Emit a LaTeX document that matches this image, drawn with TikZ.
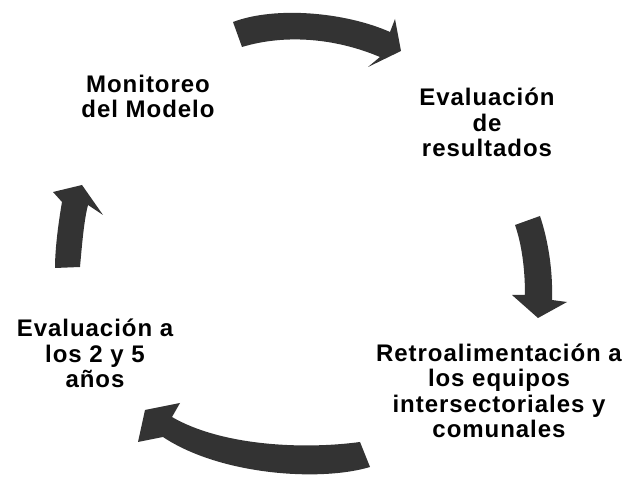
\documentclass[tikz,border=0pt]{standalone}
\usepackage{fontspec}
\setmainfont{Liberation Sans}[LetterSpace=4]
\begin{document}
\begin{tikzpicture}[x=1pt,y=-1pt,
  lbl/.style={align=center,font=\bfseries\fontsize{24}{25.5}\selectfont,inner sep=0pt,anchor=base},
  blockarrow/.style={fill=black!80,draw=none}]
\useasboundingbox (0,0) rectangle (630,478);
% arrows
\fill[blockarrow] (233,22) .. controls (275,6) and (345,12) .. (390,32) -- (395,19) -- (401,51) -- (368,67) -- (380,57) .. controls (335,38) and (285,34) .. (242,47) -- cycle;
\fill[blockarrow] (515,225) -- (540,216) .. controls (548,240) and (553,270) .. (552,300) -- (567,302) -- (538,318) -- (512,295) -- (525,295) .. controls (525,270) and (522,245) .. (515,225) -- cycle;
\fill[blockarrow] (370,467) .. controls (320,482) and (220,475) .. (163,437) -- (138,442) -- (145,410) -- (180,403) -- (172,417) .. controls (220,445) and (300,450) .. (360,442) -- cycle;
\fill[blockarrow] (55,268) -- (80,267) .. controls (82,245) and (84,220) .. (88,205) -- (103,215) -- (82,185) -- (53,192) -- (62,202) .. controls (58,225) and (55,250) .. (55,268) -- cycle;
% labels (anchor = baseline of last line)
\node[lbl] (mon) at (148,118) {Monitoreo\\del Modelo};
\node[lbl] (res) at (487,157) {Evaluación\\de\\resultados};
\node[lbl] (ret) at (499,438) {Retroalimentación a\\los equipos\\intersectoriales y\\comunales};
\node[lbl] (eva) at (95,388) {Evaluación a\\los 2 y 5\\años};
\end{tikzpicture}
\end{document}
